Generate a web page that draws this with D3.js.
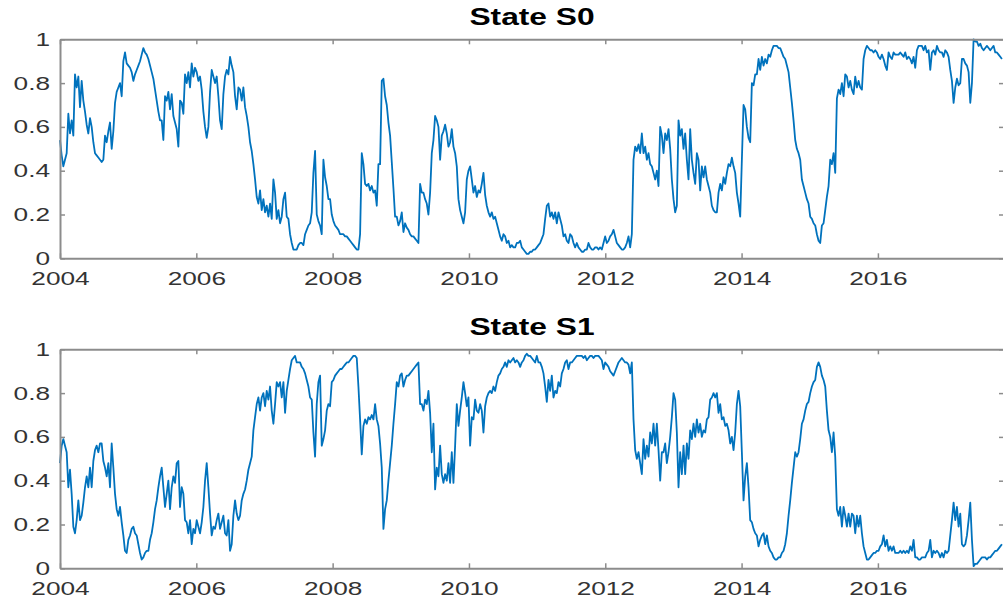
<!DOCTYPE html>
<html>
<head>
<meta charset="utf-8">
<script src="https://cdn.jsdelivr.net/npm/d3@7"></script>
<style>
body { margin: 0; background: #fff; }
svg { display: block; font-family: "Liberation Sans", Arial, sans-serif; }
</style>
</head>
<body>
<div id="chart"></div>
<script>
// readings every ~9 days from the start of 2004
var startYear = 2004
var yearStep = 0.02446
var endYear = 2017.85

var xTicks = [2004, 2006, 2008, 2010, 2012, 2014, 2016]
var yTicks = [0, 0.2, 0.4, 0.6, 0.8, 1]
var titles = ["State S0", "State S1"]

var s0 = [
    0.54,0.47,0.42,0.45,0.48,0.66,0.57,0.63,0.56,0.84,
    0.78,0.83,0.69,0.81,0.72,0.67,0.61,0.57,0.64,0.60,
    0.53,0.48,0.47,0.46,0.45,0.44,0.45,0.56,0.53,0.58,
    0.62,0.50,0.58,0.71,0.76,0.78,0.80,0.74,0.90,0.94,
    0.89,0.88,0.87,0.85,0.81,0.84,0.86,0.88,0.90,0.93,
    0.96,0.94,0.93,0.91,0.88,0.85,0.82,0.77,0.72,0.67,
    0.63,0.63,0.54,0.74,0.72,0.76,0.68,0.75,0.65,0.62,
    0.59,0.51,0.72,0.71,0.66,0.84,0.80,0.85,0.78,0.89,
    0.83,0.87,0.85,0.81,0.83,0.77,0.67,0.60,0.55,0.60,
    0.76,0.86,0.83,0.80,0.83,0.74,0.63,0.59,0.75,0.83,
    0.86,0.84,0.92,0.88,0.85,0.74,0.68,0.78,0.77,0.72,
    0.78,0.69,0.65,0.60,0.53,0.49,0.43,0.36,0.28,0.25,
    0.31,0.22,0.27,0.21,0.24,0.19,0.25,0.18,0.36,0.30,
    0.18,0.22,0.16,0.19,0.27,0.30,0.19,0.18,0.11,0.07,
    0.04,0.04,0.04,0.06,0.07,0.07,0.06,0.11,0.13,0.15,
    0.16,0.21,0.39,0.49,0.20,0.17,0.15,0.11,0.45,0.37,
    0.33,0.27,
    0.27,0.20,0.17,0.15,0.14,0.13,0.11,0.11,0.11,0.10,
    0.10,0.09,0.08,0.07,0.06,0.05,0.04,0.04,0.11,0.48,
    0.43,0.34,0.33,0.34,0.31,0.33,0.30,0.31,0.24,0.43,
    0.43,0.81,0.82,0.74,0.70,0.62,0.56,0.44,0.32,0.19,
    0.19,0.15,0.17,0.21,0.12,0.16,0.14,0.13,0.11,0.10,
    0.10,0.09,0.08,0.07,0.34,0.30,0.30,0.27,0.25,0.20,
    0.30,0.48,0.54,0.65,0.63,0.60,0.45,0.56,0.58,0.61,
    0.57,0.51,0.53,0.59,0.51,0.48,0.42,0.27,0.22,0.19,
    0.16,0.21,0.36,0.40,0.42,0.36,0.30,0.33,0.28,0.31,
    0.30,0.34,0.39,0.29,0.24,0.21,0.19,0.21,0.18,0.19,
    0.16,0.13,0.10,0.08,0.11,0.10,0.07,0.08,0.05,0.06,
    0.05,0.05,0.07,0.07,0.08,0.05,0.04,0.03,0.02,0.02,
    0.03,0.03,0.04,0.04,0.05,0.06,0.07,0.09,0.11,0.18,
    0.24,0.25,0.19,0.21,0.18,0.21,0.16,0.21,0.18,0.15,
    0.10,0.11,0.08,0.07,0.11,0.10,0.07,0.05,0.07,0.05,
    0.04,0.03,0.03,0.04,0.04,0.07,0.05,0.04,0.04,0.05,
    0.05,0.04,0.05,0.04,0.07,0.10,0.07,0.08,0.10,0.11,
    0.13,0.10,0.07,0.06,0.05,0.04,0.04,0.05,0.07,0.10,
    0.05,0.11,0.45,0.51,0.49,0.52,0.48,0.57,0.48,0.51,
    0.45,0.48,0.43,0.42,0.39,0.36,0.40,0.33,0.60,0.56,
    0.48,0.57,0.54,0.59,0.50,0.36,0.27,0.21,0.24,0.63,
    0.56,0.59,0.50,0.57,0.45,0.36,0.59,0.45,0.39,0.34,
    0.48,0.45,0.31,0.42,0.37,0.42,0.36,0.33,0.30,0.24,
    0.22,0.21,0.21,0.30,0.34,0.31,0.37,0.34,0.39,0.43,
    0.42,0.46,0.42,0.39,0.30,0.25,0.19,0.45,0.70,0.68,
    0.60,0.55,0.53,0.80,0.79,0.84,0.84,0.91,0.86,0.92,
    0.88,0.91,0.89,0.93,0.92,0.95,0.97,0.97,0.97,0.96,
    0.96,0.94,0.92,0.91,0.88,0.85,0.78,0.71,0.63,0.54,
    0.50,0.48,0.45,0.36,0.33,0.30,0.27,0.25,0.19,0.18,
    0.16,0.15,0.11,0.08,0.07,0.15,0.16,0.22,0.28,0.33,
    0.45,0.43,0.48,0.39,0.73,0.77,0.75,0.80,0.74,0.84,
    0.83,0.78,0.81,0.77,0.75,0.83,0.78,0.81,0.78,0.77,
    0.91,0.95,0.97,0.96,0.95,0.95,0.94,0.95,0.94,0.92,
    0.91,0.93,0.91,0.88,0.86,0.94,0.92,0.91,0.94,0.93,
    0.93,0.93,0.94,0.93,0.92,0.94,0.91,0.92,0.91,0.89,
    0.92,0.87,0.95,0.97,0.97,0.97,0.95,0.97,0.94,0.95,
    0.86,0.94,0.95,0.93,0.97,0.95,0.94,0.94,0.92,0.95,
    0.94,0.92,0.86,0.81,0.71,0.78,0.82,0.79,0.80,0.91,
    0.91,0.89,0.88,0.85,0.71,0.80,1.00,0.99,0.99,0.97,
    0.98,0.96,0.95,0.96,0.97,0.96,0.95,0.96,0.97,0.94,
    0.94,0.93,0.92,0.91
]

var s1 = [
    0.48,0.56,0.59,0.56,0.53,0.37,0.45,0.34,0.19,0.16,
    0.22,0.31,0.22,0.24,0.30,0.37,0.42,0.37,0.46,0.37,
    0.49,0.54,0.56,0.53,0.57,0.57,0.49,0.46,0.42,0.48,
    0.37,0.57,0.46,0.34,0.27,0.24,0.28,0.21,0.15,0.08,
    0.07,0.13,0.15,0.18,0.19,0.16,0.15,0.11,0.07,0.04,
    0.05,0.07,0.08,0.08,0.13,0.16,0.21,0.27,0.31,0.37,
    0.42,0.46,0.37,0.28,0.34,0.40,0.27,0.37,0.42,0.39,
    0.48,0.49,0.28,0.37,0.34,0.22,0.21,0.16,0.22,0.11,
    0.18,0.16,0.22,0.19,0.16,0.21,0.28,0.40,0.48,0.37,
    0.25,0.15,0.19,0.18,0.22,0.25,0.18,0.21,0.24,0.16,
    0.15,0.22,0.08,0.11,0.24,0.31,0.25,0.22,0.24,0.31,
    0.34,0.36,0.40,0.45,0.48,0.51,0.63,0.69,0.75,0.78,
    0.72,0.78,0.80,0.74,0.81,0.77,0.83,0.72,0.66,0.75,
    0.85,0.83,0.85,0.78,0.85,0.71,0.81,0.86,0.91,0.95,
    0.96,0.97,0.94,0.94,0.94,0.92,0.91,0.89,0.86,0.83,
    0.78,0.77,0.62,0.51,0.75,0.85,0.88,0.56,0.59,0.63,
    0.72,0.75,
    0.74,0.85,0.86,0.88,0.89,0.90,0.91,0.91,0.92,0.93,
    0.94,0.94,0.95,0.96,0.97,0.97,0.96,0.83,0.68,0.52,
    0.65,0.68,0.66,0.69,0.68,0.70,0.68,0.75,0.68,0.65,
    0.57,0.46,0.18,0.27,0.31,0.40,0.48,0.56,0.66,0.75,
    0.85,0.83,0.88,0.89,0.83,0.86,0.88,0.88,0.89,0.90,
    0.91,0.92,0.93,0.94,0.75,0.75,0.72,0.77,0.75,0.81,
    0.71,0.53,0.66,0.36,0.46,0.42,0.56,0.43,0.39,0.43,
    0.40,0.48,0.39,0.53,0.39,0.56,0.75,0.65,0.72,0.78,
    0.85,0.80,0.74,0.78,0.56,0.69,0.68,0.77,0.72,0.71,
    0.75,0.72,0.62,0.74,0.78,0.80,0.81,0.80,0.83,0.81,
    0.85,0.88,0.89,0.91,0.92,0.94,0.92,0.95,0.94,0.95,
    0.96,0.94,0.95,0.94,0.92,0.94,0.95,0.97,0.98,0.97,
    0.97,0.96,0.95,0.94,0.97,0.94,0.94,0.92,0.89,0.83,
    0.76,0.86,0.81,0.88,0.78,0.81,0.80,0.85,0.83,0.89,
    0.91,0.94,0.95,0.91,0.94,0.94,0.95,0.96,0.97,0.97,
    0.97,0.97,0.96,0.97,0.95,0.96,0.97,0.97,0.96,0.97,
    0.97,0.97,0.96,0.95,0.91,0.94,0.93,0.92,0.90,0.89,
    0.88,0.90,0.92,0.94,0.95,0.96,0.95,0.94,0.94,0.93,
    0.89,0.94,0.68,0.54,0.50,0.53,0.48,0.43,0.59,0.50,
    0.56,0.51,0.62,0.57,0.66,0.56,0.66,0.54,0.40,0.53,
    0.53,0.57,0.48,0.53,0.60,0.69,0.80,0.77,0.62,0.37,
    0.53,0.43,0.56,0.43,0.57,0.50,0.63,0.59,0.66,0.60,
    0.68,0.62,0.66,0.60,0.63,0.62,0.68,0.69,0.77,0.78,
    0.80,0.78,0.80,0.71,0.75,0.68,0.69,0.65,0.66,0.63,
    0.57,0.60,0.54,0.62,0.75,0.81,0.74,0.53,0.31,0.42,
    0.48,0.37,0.22,0.21,0.18,0.16,0.15,0.10,0.13,0.15,
    0.16,0.11,0.15,0.10,0.08,0.07,0.05,0.04,0.04,0.05,
    0.05,0.07,0.08,0.11,0.16,0.24,0.31,0.39,0.46,0.53,
    0.51,0.53,0.59,0.66,0.68,0.72,0.75,0.76,0.80,0.83,
    0.85,0.86,0.92,0.94,0.92,0.88,0.86,0.83,0.72,0.63,
    0.60,0.53,0.62,0.51,0.27,0.24,0.28,0.19,0.28,0.24,
    0.19,0.25,0.19,0.25,0.24,0.16,0.24,0.19,0.24,0.16,
    0.10,0.07,0.04,0.04,0.05,0.06,0.07,0.07,0.08,0.08,
    0.10,0.11,0.15,0.10,0.13,0.08,0.10,0.08,0.10,0.07,
    0.07,0.07,0.08,0.07,0.08,0.07,0.08,0.07,0.10,0.08,
    0.13,0.05,0.05,0.04,0.04,0.05,0.05,0.05,0.07,0.08,
    0.13,0.05,0.08,0.07,0.08,0.07,0.05,0.07,0.05,0.08,
    0.07,0.08,0.15,0.22,0.30,0.22,0.28,0.19,0.25,0.11,
    0.10,0.11,0.15,0.22,0.30,0.13,0.01,0.02,0.02,0.03,
    0.04,0.05,0.05,0.05,0.04,0.05,0.05,0.06,0.07,0.08,
    0.08,0.09,0.10,0.11
]

var svgSize = {
    width: 1003,
    height: 603
}

var panel = {
    left: 60,
    right: 1004,
    height: 219,
    tops: [39.3, 349.3]
}

// the picture is stretched sideways, so is its text
var textStretch = 1.38
var axisColor = "#8c8c8c"
var textColor = "#333333"

var svg = d3.select("#chart")
    .append("svg")
    .attr("width", svgSize.width)
    .attr("height", svgSize.height)

var xScale = d3.scaleLinear()
    .domain([startYear, endYear])
    .range([panel.left, panel.right])

var yScale = d3.scaleLinear()
    .domain([0, 1])
    .range([panel.height, 0])

var line = d3.line()
    .x(d => xScale(d.year))
    .y(d => yScale(d.value))

function styleAxis(g) {
    g.attr("font-size", 19).attr("font-family", null)
    g.select(".domain").attr("stroke", axisColor).attr("stroke-width", 2)
    g.selectAll(".tick line").attr("stroke", axisColor).attr("stroke-width", 1.5)
    g.selectAll("text").attr("fill", textColor)
}

;[s0, s1].forEach((series, k) => {
    var frame = svg.append("g")
        .attr("transform", `translate(0, ${panel.tops[k]})`)

    var points = series.map((v, i) => ({ year: startYear + i * yearStep, value: v }))

    frame.append("path")
        .datum(points)
        .attr("fill", "none")
        .attr("stroke", "#0072BD")
        .attr("stroke-width", 1.8)
        .attr("stroke-linejoin", "round")
        .attr("d", line)

    var bottomAxis = d3.axisBottom(xScale).tickValues(xTicks).tickFormat(d3.format("d"))
        .tickSizeInner(-5).tickSizeOuter(0)
    var topAxis = d3.axisTop(xScale).tickValues(xTicks).tickFormat("")
        .tickSizeInner(-5).tickSizeOuter(0)
    var leftAxis = d3.axisLeft(yScale).tickValues(yTicks).tickFormat(d3.format("~g"))
        .tickSizeInner(-5).tickSizeOuter(0)
    var rightAxis = d3.axisRight(yScale).tickValues(yTicks).tickFormat("")
        .tickSizeInner(-5).tickSizeOuter(0)

    frame.append("g").attr("transform", `translate(0, ${panel.height})`)
        .call(bottomAxis).call(styleAxis)
        .selectAll("text")
        .attr("y", 27).attr("dy", null)
        .attr("transform", `scale(${textStretch}, 1)`)

    frame.append("g").call(topAxis).call(styleAxis)

    frame.append("g").attr("transform", `translate(${panel.left}, 0)`)
        .call(leftAxis).call(styleAxis)
        .selectAll("text")
        .attr("x", -10 / textStretch)
        .attr("transform", `scale(${textStretch}, 1)`)

    frame.append("g").attr("transform", `translate(${panel.right}, 0)`)
        .call(rightAxis).call(styleAxis)

    frame.append("text")
        .attr("transform", `translate(${(panel.left + panel.right) / 2}, -14.3) scale(${textStretch}, 1)`)
        .attr("text-anchor", "middle")
        .attr("font-size", 23)
        .attr("font-weight", "bold")
        .attr("fill", "#000")
        .text(titles[k])
})
</script>
</body>
</html>
